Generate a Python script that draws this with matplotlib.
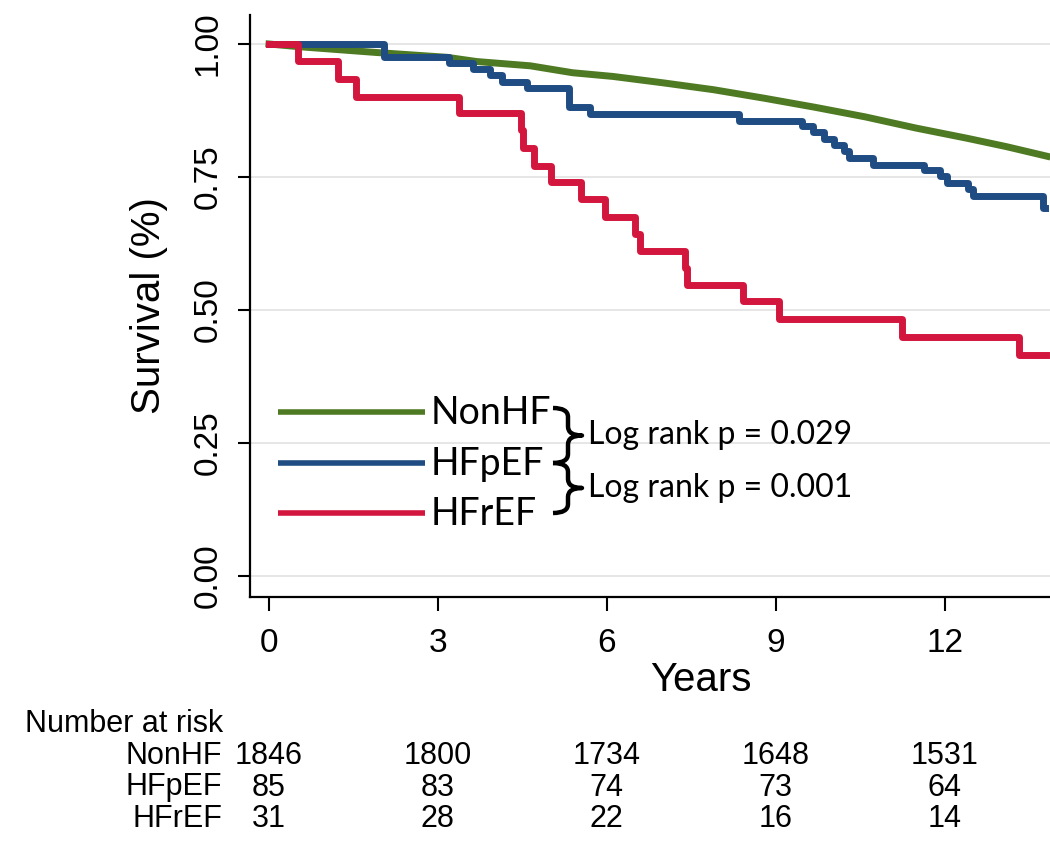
import matplotlib.pyplot as plt
from matplotlib import transforms
from matplotlib.path import Path
from matplotlib.patches import PathPatch
from matplotlib.ticker import FormatStrFormatter

# survival curves (years, survival fraction)
nonhf_t = [0, 0.52, 1.91, 3.16, 3.69, 4.64, 5.39, 6.11, 7.0, 7.9, 8.8, 9.7, 10.59, 11.49, 12.39, 13.1, 13.82]
nonhf_s = [1.0, 0.995, 0.984, 0.975, 0.967, 0.959, 0.946, 0.939, 0.927, 0.914, 0.898, 0.881, 0.863, 0.842, 0.823, 0.807, 0.789]

hfpef_t = [0, 2.04, 3.20, 3.62, 3.92, 4.14, 4.58, 5.32, 5.70, 8.34, 9.47, 9.67, 9.86, 10.04,
           10.22, 10.31, 10.73, 11.63, 11.92, 12.05, 12.42, 12.51, 13.75, 13.78]
hfpef_s = [1.0, 0.976, 0.965, 0.953, 0.941, 0.929, 0.918, 0.882, 0.868, 0.856, 0.845, 0.834, 0.822, 0.810,
           0.799, 0.785, 0.773, 0.763, 0.751, 0.739, 0.728, 0.715, 0.692, 0.692]

hfref_t = [0, 0.51, 1.22, 1.54, 3.38, 4.47, 4.52, 4.70, 5.00, 5.55, 5.97, 6.50, 6.59, 7.39, 7.43,
           8.42, 9.05, 11.25, 13.32, 13.80]
hfref_s = [1.0, 0.968, 0.934, 0.901, 0.871, 0.838, 0.804, 0.771, 0.741, 0.708, 0.675, 0.643, 0.611, 0.578, 0.547,
           0.516, 0.484, 0.449, 0.416, 0.416]

groups = ['NonHF', 'HFpEF', 'HFrEF']
colors = ['#4f7a24', '#1f4c82', '#d3163d']
pvalues = ['Log rank p = 0.029', 'Log rank p = 0.001']

risk_times = [0, 3, 6, 9, 12]
risk_nonhf = [1846, 1800, 1734, 1648, 1531]
risk_hfpef = [85, 83, 74, 73, 64]
risk_hfref = [31, 28, 22, 16, 14]

W, H = 1050, 860
fig = plt.figure(figsize=(W / 100, H / 100), dpi=100)
ax = fig.add_axes([250 / W, 1 - 597 / H, 800 / W, 582 / H])

ax.plot(nonhf_t, nonhf_s, color=colors[0], lw=5, zorder=3)
ax.plot(hfpef_t, hfpef_s, color=colors[1], lw=5, drawstyle='steps-post', zorder=4)
ax.plot(hfref_t, hfref_s, color=colors[2], lw=5, drawstyle='steps-post', zorder=5)

ax.set_xlim(-0.3375, 13.872)
ax.set_ylim(-0.0395, 1.0545)
ax.set_xticks(risk_times)
ax.set_yticks([0, 0.25, 0.5, 0.75, 1.0])
ax.yaxis.set_major_formatter(FormatStrFormatter('%.2f'))
ax.yaxis.grid(True, color='#e4e4e4', lw=1.3)
ax.set_axisbelow(True)
for side in ['top', 'right']:
    ax.spines[side].set_visible(False)
for side in ['left', 'bottom']:
    ax.spines[side].set_linewidth(1.6)

font = 'Liberation Sans'
ax.tick_params(axis='x', length=10, width=1.5, pad=12, labelsize=24)
ax.tick_params(axis='y', length=9, width=1.5, pad=10, labelsize=24, labelrotation=90)
for lab in ax.get_yticklabels():
    lab.set_va('center')
for lab in ax.get_xticklabels() + ax.get_yticklabels():
    lab.set_family(font)

fig.text(149 / W, 1 - 306 / H, 'Survival (%)', rotation=90, ha='center', va='center',
         fontsize=29, family=font)
fig.text(701 / W, 1 - 680 / H, 'Years', ha='center', va='center', fontsize=29, family=font)

# number at risk table, columns follow the x axis scale
tr = transforms.blended_transform_factory(ax.transData, fig.transFigure)
fig.text(25 / W, 1 - 732 / H, 'Number at risk', ha='left', va='baseline', fontsize=22, family=font)
for row, (name, counts) in enumerate(zip(groups, [risk_nonhf, risk_hfpef, risk_hfref])):
    yb = 1 - (764 + row * 31.5) / H
    fig.text(222 / W, yb, name, ha='right', va='baseline', fontsize=22, family=font)
    for t, n in zip(risk_times, counts):
        ax.text(t, yb, str(n), transform=tr, ha='center', va='baseline', fontsize=22, family=font,
                clip_on=False)

# legend with braces, drawn in pixel space
ov = fig.add_axes([0, 0, 1, 1], zorder=10)
ov.set_xlim(0, W)
ov.set_ylim(H, 0)
ov.axis('off')
ov.patch.set_alpha(0)

leg_y = [412, 463, 513]
for name, c, y in zip(groups, colors, leg_y):
    ov.plot([278, 425], [y, y], color=c, lw=4, solid_capstyle='butt')
    ov.text(431, y + 1, name, ha='left', va='center', fontsize=27, family='Lato')


def brace(y_top, y_bot, x0=553, xm=568, xt=582, r=9):
    ym = (y_top + y_bot) / 2
    verts = [(x0, y_top), (xm, y_top), (xm, y_top + r), (xm, ym - r),
             (xm, ym), (xt, ym), (xm, ym), (xm, ym + r), (xm, y_bot - r),
             (xm, y_bot), (x0, y_bot)]
    codes = [Path.MOVETO, Path.CURVE3, Path.CURVE3, Path.LINETO,
             Path.CURVE3, Path.CURVE3, Path.CURVE3, Path.CURVE3, Path.LINETO,
             Path.CURVE3, Path.CURVE3]
    ov.add_patch(PathPatch(Path(verts, codes), fill=False, lw=3.2, ec='black',
                           capstyle='butt', joinstyle='round'))
    return ym


for (ya, yb_), ptxt in zip([(leg_y[0] - 4, leg_y[1]), (leg_y[1], leg_y[2])], pvalues):
    ym = brace(ya, yb_)
    ov.text(588, ym, ptxt, ha='left', va='center', fontsize=23, family='Lato')

fig.savefig('out.png', dpi=100)
